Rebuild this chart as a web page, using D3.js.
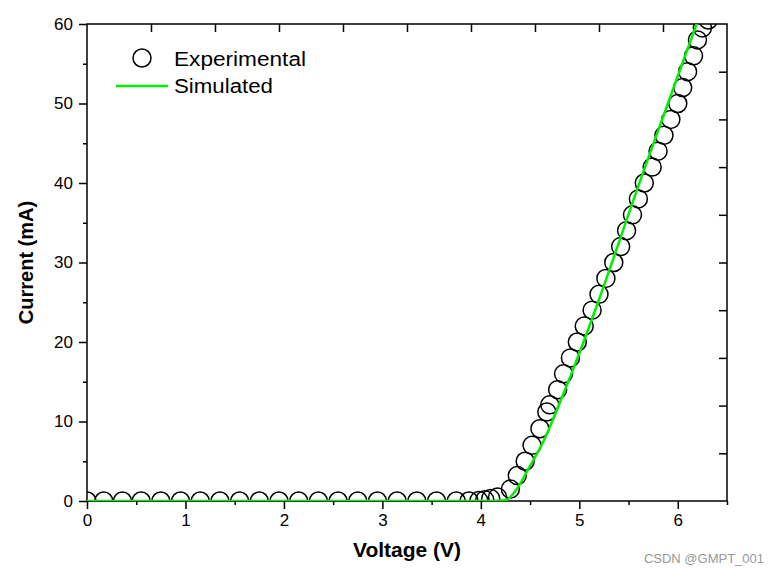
<!DOCTYPE html>
<html>
<head>
<meta charset="utf-8">
<script src="https://cdn.jsdelivr.net/npm/d3@7"></script>
<style>
  body { margin: 0; background: #fff; }
  text { font-family: Arial, "Liberation Sans", sans-serif; }
</style>
</head>
<body>
<svg id="chart" width="779" height="575"></svg>
<script>
const expVoltage = [0.0, 0.17, 0.36, 0.55, 0.75, 0.95, 1.15, 1.35, 1.55, 1.75, 1.95, 2.15, 2.35, 2.55, 2.75,
  2.95, 3.15, 3.35, 3.55, 3.75, 3.88, 3.98, 4.04, 4.1, 4.17, 4.3, 4.37, 4.45, 4.52, 4.6, 4.67, 4.7,
  4.78, 4.84, 4.91, 4.98, 5.05, 5.13, 5.2, 5.27, 5.35, 5.42, 5.48, 5.54, 5.6, 5.66, 5.74, 5.8, 5.86,
  5.93, 6.0, 6.05, 6.1, 6.16, 6.2, 6.25, 6.31];
const expCurrent = [0, 0, 0, 0, 0, 0, 0, 0, 0, 0, 0, 0, 0, 0, 0,
  0, 0, 0, 0, 0, 0, 0.05, 0.15, 0.3, 0.5, 1.5, 3.2, 5.0, 7.0, 9.1, 11.2, 12.1,
  14.0, 16.0, 18.0, 20.0, 22.0, 24.0, 26.0, 28.0, 30.0, 32.0, 34.0, 36.0, 38.0, 40.0, 42.0, 44.0, 46.0,
  48.0, 50.0, 52.0, 54.0, 56.0, 58.0, 59.5, 60.5];

// simulated curve
const simVoltage = [0, 4.1, 4.25, 4.37, 4.49, 4.64, 4.81, 5.01, 5.17, 5.65, 6.18, 6.25];
const simCurrent = [0, 0, 0.1, 1.6, 4.2, 7.6, 12.6, 18.9, 24.3, 41.4, 59.6, 62];

const xTicks = [0, 1, 2, 3, 4, 5, 6];
const xMinor = [0.5, 1.5, 2.5, 3.5, 4.5, 5.5, 6.5];
const yTicks = [0, 10, 20, 30, 40, 50, 60];
const yMinor = [5, 15, 25, 35, 45, 55];
const topTicks = [0.65, 1.3, 1.95, 2.6, 3.25, 3.9, 4.55, 5.2, 5.85];
const rightTicks = [6, 12, 18, 24, 30, 36, 42, 48, 54];

const seriesNames = ["Experimental", "Simulated"];
const xTitle = "Voltage (V)";
const yTitle = "Current (mA)";
const watermark = "CSDN @GMPT_001";

const margin = {left: 87, right: 52, top: 24, bottom: 74};
const W = 779, H = 575;
const iw = W - margin.left - margin.right;
const ih = H - margin.top - margin.bottom;

const svg = d3.select("#chart");
const g = svg.append("g").attr("transform", `translate(${margin.left},${margin.top})`);

const x = d3.scaleLinear().domain([0, 6.5]).range([0, iw]);
const y = d3.scaleLinear().domain([0, 60]).range([ih, 0]);

g.append("clipPath").attr("id", "clip")
  .append("rect").attr("width", iw).attr("height", ih);

// axes
g.append("g").attr("transform", `translate(0,${ih})`)
  .call(d3.axisBottom(x).tickValues(xTicks).tickFormat(d3.format("d")).tickSize(8).tickPadding(5));
g.append("g").attr("transform", `translate(0,${ih})`)
  .call(d3.axisBottom(x).tickValues(xMinor).tickFormat("").tickSize(4));
g.append("g")
  .call(d3.axisLeft(y).tickValues(yTicks).tickFormat(d3.format("d")).tickSize(8).tickPadding(6));
g.append("g").call(d3.axisLeft(y).tickValues(yMinor).tickFormat("").tickSize(4));
g.append("g").call(d3.axisTop(x).tickValues(topTicks).tickFormat("").tickSize(-8));
g.append("g").attr("transform", `translate(${iw},0)`)
  .call(d3.axisRight(y).tickValues(rightTicks).tickFormat("").tickSize(-8));

g.selectAll(".domain").remove();
g.selectAll(".tick line").attr("stroke", "#000").attr("stroke-width", 1.5);
g.selectAll(".tick text").attr("fill", "#000").style("font-size", "17px");

g.append("rect").attr("width", iw).attr("height", ih)
  .attr("fill", "none").attr("stroke", "#000").attr("stroke-width", 1.5);

// data
const plot = g.append("g").attr("clip-path", "url(#clip)");
const expData = expVoltage.map((v, i) => ({v, c: expCurrent[i]}));
const simData = simVoltage.map((v, i) => ({v, c: simCurrent[i]}));

plot.selectAll("circle").data(expData).join("circle")
  .attr("cx", d => x(d.v)).attr("cy", d => y(d.c)).attr("r", 9)
  .attr("fill", "none").attr("stroke", "#000").attr("stroke-width", 1.5);

const line = d3.line().x(d => x(d.v)).y(d => y(d.c)).curve(d3.curveMonotoneX);
plot.append("path").datum(simData).attr("d", line)
  .attr("fill", "none").attr("stroke", "#00ee00").attr("stroke-width", 2.5);

// legend
const lg = g.append("g");
lg.append("circle").attr("cx", 55).attr("cy", 34).attr("r", 9)
  .attr("fill", "none").attr("stroke", "#000").attr("stroke-width", 1.5);
lg.append("text").attr("x", 87).attr("y", 42).text(seriesNames[0])
  .style("font-size", "20px").attr("textLength", 132).attr("lengthAdjust", "spacingAndGlyphs");
lg.append("line").attr("x1", 29).attr("x2", 81).attr("y1", 62).attr("y2", 62)
  .attr("stroke", "#00ee00").attr("stroke-width", 2.5);
lg.append("text").attr("x", 87).attr("y", 69).text(seriesNames[1])
  .style("font-size", "20px").attr("textLength", 99).attr("lengthAdjust", "spacingAndGlyphs");

// axis titles
svg.append("text").attr("x", margin.left + x(3.25)).attr("y", 557)
  .attr("text-anchor", "middle").style("font-weight", "bold").style("font-size", "21px")
  .text(xTitle);
svg.append("text").attr("transform", `translate(33,${margin.top + ih / 2}) rotate(-90)`)
  .attr("text-anchor", "middle").style("font-weight", "bold").style("font-size", "20px")
  .text(yTitle);

svg.append("text").attr("x", 764).attr("y", 563).attr("text-anchor", "end")
  .attr("fill", "#999").style("font-size", "13px").text(watermark);
</script>
</body>
</html>
